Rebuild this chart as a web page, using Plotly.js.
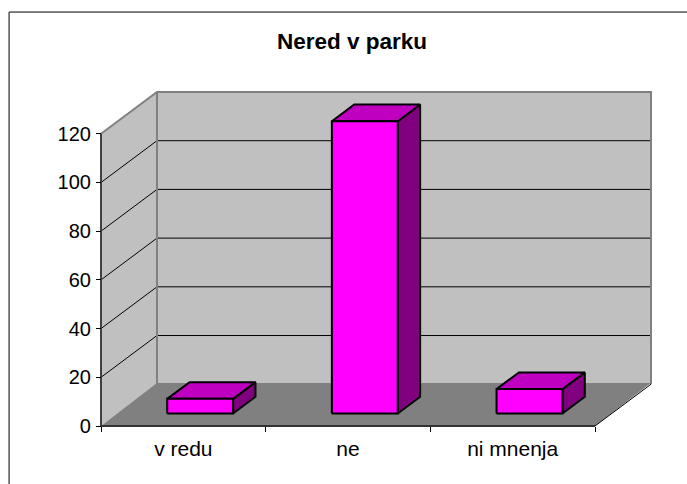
<!DOCTYPE html>
<html>
<head>
<meta charset="utf-8">
<script src="https://cdn.plot.ly/plotly-3.0.1.min.js"></script>
<style>html,body{margin:0;padding:0;background:#fff;overflow:hidden}</style>
</head>
<body>
<div id="chart" style="width:687px;height:484px"></div>
<script>
var titleText = "Nered v parku";
var categories = ["v redu", "ne", "ni mnenja"];
var values = [6, 120, 10];
var yTicks = [0, 20, 40, 60, 80, 100, 120];
var yMax = 120;

// oblique projection: how far the back of the box shifts, in axis units
var depthX = 0.34, depthY = 17.15;
var barWidth = 0.4, barDepthStart = 0.3, barDepthEnd = 0.7;
var floorLift = 0.5;

var nCat = categories.length;
var xEnd = nCat + depthX, yEnd = yMax + depthY;

// plot box
var pad = 4, W = 687, H = 484;
var left = 101, right = 651.4, top_ = 91.5, bottom = 425.7;
var pxX = (right - left) / xEnd, pxY = (bottom - top_) / yEnd;
var plotW = right - left + 2 * pad, plotH = bottom - top_ + 2 * pad;

function P(c, v, d) { return [c + d * depthX, v + d * depthY]; }
function poly(pts, fill, line, width, xa) {
  var xs = pts.map(function (p) { return p[0]; });
  var ys = pts.map(function (p) { return p[1]; });
  var t = { type: "scatter", mode: "lines", x: xs, y: ys, hoverinfo: "skip", showlegend: false,
            line: { color: line || "rgba(0,0,0,0)", width: width || 0 } };
  if (fill) { t.fill = "toself"; t.fillcolor = fill; t.x = xs.concat([xs[0]]); t.y = ys.concat([ys[0]]); }
  if (xa) t.xaxis = xa;
  return t;
}

var traces = [];
// side wall, back wall
traces.push(poly([P(0,0,0), P(0,0,1), P(0,yMax,1), P(0,yMax,0)], "#C0C0C0"));
traces.push(poly([P(0,0,1), P(nCat,0,1), P(nCat,yMax,1), P(0,yMax,1)], "#C0C0C0"));
// gridlines
yTicks.forEach(function (v) {
  if (v > 0 && v < yMax) traces.push(poly([P(0,v,0), P(0,v,1), P(nCat,v,1)], null, "#000000", 1));
});
// wall edges
traces.push(poly([P(0,yMax,0), P(0,yMax,1), P(nCat,yMax,1), P(nCat,0,1)], null, "#808080", 2));
traces.push(poly([P(0,0,1), P(0,yMax,1)], null, "#808080", 2));
// floor
traces.push(poly([P(0,0,0), P(nCat,0,0), P(nCat,floorLift,1), P(0,floorLift,1)], "#808080"));
traces.push(poly([P(nCat,0,0), P(nCat,0,1)], null, "#000000", 1));
// axis lines
traces.push(poly([P(0,0,0), P(0,yMax,0)], null, "#404040", 2));
traces.push(poly([P(0,0,0), P(nCat,0,0)], null, "#333333", 2, "x2"));
// bars
values.forEach(function (v, i) {
  var c0 = i + 0.5 - barWidth / 2, c1 = i + 0.5 + barWidth / 2, d0 = barDepthStart, d1 = barDepthEnd;
  traces.push(poly([P(c1,0,d0), P(c1,0,d1), P(c1,v,d1), P(c1,v,d0)], "#800080", "#000000", 2));
  traces.push(poly([P(c0,v,d0), P(c1,v,d0), P(c1,v,d1), P(c0,v,d1)], "#C000C0", "#000000", 2));
  traces.push(poly([P(c0,0,d0), P(c1,0,d0), P(c1,v,d0), P(c0,v,d0)], "#FF00FF", "#000000", 2));
});

var font = { family: "Liberation Sans, Arial, sans-serif", color: "#000000" };
var xRange = [-pad / pxX, xEnd + pad / pxX];
var yRange = [-pad / pxY, yEnd + pad / pxY];
var posX = pad / plotH, posY = pad / plotW;

var layout = {
  width: W, height: H,
  paper_bgcolor: "#ffffff", plot_bgcolor: "rgba(0,0,0,0)",
  showlegend: false,
  margin: { l: left - pad, r: W - right - pad, t: top_ - pad, b: H - bottom - pad, pad: 0, autoexpand: false },
  title: { text: "<b>" + titleText + "</b>", x: 352 / W, xanchor: "center", xref: "container",
           y: 1 - 41 / H, yanchor: "middle", yref: "container",
           font: { family: font.family, size: 22.5, color: "#000000" } },
  xaxis: { range: xRange, anchor: "free", position: posX, tickmode: "array",
           tickvals: categories.map(function (c, i) { return i + 0.5; }), ticktext: categories,
           ticks: "", ticklen: 0, showgrid: false, zeroline: false, showline: false,
           tickfont: { family: font.family, size: 21, color: "#000000" }, ticklabelstandoff: 8 },
  xaxis2: { range: xRange, overlaying: "x", anchor: "free", position: posX, tickmode: "array",
            tickvals: [0, 1, 2, 3], ticks: "outside", ticklen: 5, tickwidth: 1, tickcolor: "#000000",
            showticklabels: false, showgrid: false, zeroline: false, showline: false },
  yaxis: { range: yRange, anchor: "free", position: posY, tickmode: "array", tickvals: yTicks,
           ticks: "outside", ticklen: 5, tickwidth: 1, tickcolor: "#000000",
           showgrid: false, zeroline: false, showline: false, ticklabelstandoff: 1,
           tickfont: { family: font.family, size: 20, color: "#000000" } },
  shapes: [
    { type: "line", xref: "paper", yref: "paper", x0: (9 - (left - pad)) / plotW, x1: (700 - (left - pad)) / plotW,
      y0: (bottom + pad - 11.5) / plotH, y1: (bottom + pad - 11.5) / plotH, line: { color: "#000000", width: 1 } },
    { type: "line", xref: "paper", yref: "paper", x0: (9 - (left - pad)) / plotW, x1: (9 - (left - pad)) / plotW,
      y0: (bottom + pad - 11.5) / plotH, y1: (bottom + pad - 500) / plotH, line: { color: "#000000", width: 1 } }
  ]
};
Plotly.newPlot("chart", traces, layout, { displayModeBar: false, staticPlot: true });
</script>
</body>
</html>
